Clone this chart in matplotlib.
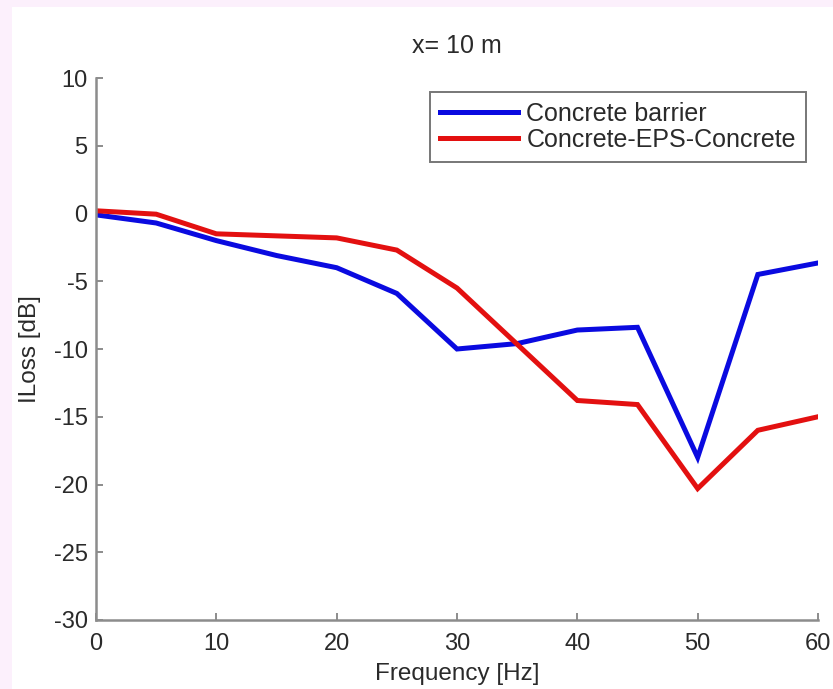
import matplotlib
matplotlib.use("Agg")
import matplotlib.pyplot as plt
from matplotlib.patches import Rectangle

plt.rcParams['font.family'] = ['Liberation Sans', 'DejaVu Sans']
plt.rcParams['axes.unicode_minus'] = False

freq = [0, 5, 10, 15, 20, 25, 30, 35, 40, 45, 50, 55, 60]
concrete = [-0.1, -0.7, -2.0, -3.1, -4.0, -5.9, -10.0, -9.6, -8.6, -8.4, -18.0, -4.5, -3.65]
concrete_eps = [0.2, -0.05, -1.5, -1.65, -1.8, -2.7, -5.5, -9.65, -13.8, -14.1, -20.3, -16.0, -15.0]

xticks = [0, 10, 20, 30, 40, 50, 60]
yticks = [-30, -25, -20, -15, -10, -5, 0, 5, 10]

text_color = '#2a2a2a'

fig = plt.figure(figsize=(8.33, 6.89), dpi=100)
fig.patch.set_facecolor('white')

# thin tinted strip along the top and left edges
fig.patches.append(Rectangle((0, 1 - 7 / 689), 1, 7 / 689, transform=fig.transFigure,
                             facecolor='#fcf0fc', edgecolor='none', zorder=0))
fig.patches.append(Rectangle((0, 0), 12 / 833, 1, transform=fig.transFigure,
                             facecolor='#fcf0fc', edgecolor='none', zorder=0))

ax = fig.add_axes([96 / 833, 1 - 620 / 689, (818 - 96) / 833, (620 - 78) / 689])

ax.plot(freq, concrete, color='#0a0ae0', lw=3.6, label='Concrete barrier', solid_joinstyle='miter')
ax.plot(freq, concrete_eps, color='#e31010', lw=3.6, label='Concrete-EPS-Concrete', solid_joinstyle='miter')

ax.set_xlim(0, 60)
ax.set_ylim(-30, 10)
ax.set_xticks(xticks)
ax.set_yticks(yticks)

for side in ['top', 'right']:
    ax.spines[side].set_visible(False)
for side in ['left', 'bottom']:
    ax.spines[side].set_color('#8c8c8c')
    ax.spines[side].set_linewidth(1.8)

ax.tick_params(direction='in', length=5, width=1.4, color='#8c8c8c',
               labelsize=17, labelcolor=text_color)
ax.tick_params(axis='x', pad=9)
ax.tick_params(axis='y', pad=6)

ax.set_title('x= 10 m', fontsize=18, color=text_color, pad=18)
ax.set_xlabel('Frequency [Hz]', fontsize=17.5, color=text_color, labelpad=6)
ax.set_ylabel('ILoss [dB]', fontsize=17.5, color=text_color, labelpad=9)

leg = ax.legend(loc='upper right', bbox_to_anchor=(806 / 833, 1 - 92 / 689),
                bbox_transform=fig.transFigure, fontsize=18, frameon=True, fancybox=False,
                handlelength=3.1, handletextpad=0.35, borderpad=0.4, labelspacing=0.08,
                borderaxespad=0)
leg.get_frame().set_edgecolor('#555555')
leg.get_frame().set_linewidth(1.4)
for t in leg.get_texts():
    t.set_color(text_color)

fig.savefig('out.png', dpi=100, facecolor=fig.get_facecolor())
